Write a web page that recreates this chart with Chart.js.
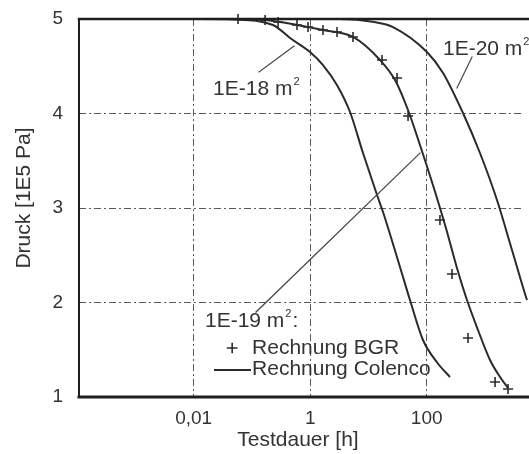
<!DOCTYPE html>
<html>
<head>
<meta charset="utf-8">
<script src="https://cdn.jsdelivr.net/npm/chart.js@4/dist/chart.umd.min.js"></script>
<style>
  html, body { margin: 0; padding: 0; background: #ffffff; overflow: hidden; }
  canvas { display: block; }
</style>
</head>
<body>
<canvas id="c" width="529" height="454"></canvas>
<script>
// ---------- data ----------
// x: Testdauer [h] (log axis), y: Druck [1E5 Pa]
const xTicks = [0.01, 1, 100];
const xTickLabels = ['0,01', '1', '100'];
const yTicks = [1, 2, 3, 4, 5];
const yTickLabels = ['1', '2', '3', '4', '5'];

// Rechnung Colenco, k = 1E-18 m²
const t18 = [0.0001, 0.0129, 0.0473, 0.23, 0.451, 0.993, 1.66, 2.88, 4.83, 8.07, 14.0, 17.8, 34.8, 51.7, 86.4, 153.5, 251];
const p18 = [5.0, 5.0, 4.995, 4.937, 4.799, 4.651, 4.513, 4.302, 4.016, 3.582, 3.14, 2.958, 2.376, 2.026, 1.603, 1.360, 1.212];

// Rechnung Colenco, k = 1E-19 m²
const t19 = [0.0001, 0.063, 0.168, 0.594, 1.66, 5.43, 15.8, 28.6, 47.8, 76.7, 128, 214, 331, 492, 760, 1222, 1815, 2490];
const p19 = [5.0, 5.0, 4.989, 4.937, 4.884, 4.810, 4.566, 4.354, 4.037, 3.667, 3.243, 2.788, 2.365, 2.026, 1.709, 1.392, 1.212, 1.095];

// Rechnung Colenco, k = 1E-20 m²
const t20 = [0.0001, 3.25, 12.6, 26.4, 101, 191, 420, 822, 1610, 2915, 5270, 10700];
const p20 = [5.0, 5.0, 4.968, 4.915, 4.651, 4.429, 4.005, 3.582, 3.085, 2.556, 2.026, 1.48];

// Rechnung BGR, k = 1E-19 m²
const tBGR = [0.0577, 0.168, 0.281, 0.594, 0.918, 1.66, 2.89, 5.43, 17.1, 31.0, 47.9, 169, 272, 513, 1493, 2494];
const pBGR = [5.0, 4.99, 4.968, 4.937, 4.915, 4.884, 4.862, 4.810, 4.566, 4.376, 3.974, 2.873, 2.302, 1.624, 1.159, 1.085];

// ---------- styling / layout ----------
const FONT = '"Liberation Sans", Arial, Helvetica, sans-serif';
const INK = '#2b2b2b';
const TXT = '#333333';
const TSIZE = 21;

const pts = (ts, ps) => ts.map((t, i) => ({ x: t, y: ps[i] }));

// annotation anchors, in data units (t [h], p [1E5 Pa])
const notes = [
  { text: '1E-18 m', sup: '2', tail: '', at: [0.0215, 4.26], leader: [[0.1325, 4.439], [0.527, 4.714]] },
  { text: '1E-20 m', sup: '2', tail: '', at: [190.6, 4.683], leader: [[331, 4.27], [600, 4.598]] },
  { text: '1E-19 m', sup: '2', tail: ':', at: [0.01564, 1.80], leader: [[0.1175, 1.899], [76.9, 3.582]] }
];
const legendSpec = {
  crossAt: [0.0458, 1.519],
  bgrText: [0.1005, 1.519],
  lineFrom: [0.0232, 1.286], lineTo: [0.0927, 1.286],
  colText: [0.1005, 1.296]
};

const noPad = s => { s.paddingTop = 0; s.paddingBottom = 0; s.paddingLeft = 0; s.paddingRight = 0; };

const decor = {
  id: 'decor',
  afterDatasetsDraw(chart) {
    const { ctx, chartArea: a, scales: { x, y } } = chart;
    const X = v => x.getPixelForValue(v);
    const Y = v => y.getPixelForValue(v);
    ctx.save();
    // frame (the plot runs off the right edge of the picture)
    ctx.strokeStyle = '#1e1e1e';
    ctx.lineCap = 'square';
    ctx.lineWidth = 2.5;
    ctx.beginPath(); ctx.moveTo(a.left, a.top); ctx.lineTo(chart.width + 2, a.top); ctx.stroke();
    ctx.lineWidth = 2;
    ctx.beginPath(); ctx.moveTo(a.left, a.top); ctx.lineTo(a.left, a.bottom); ctx.stroke();
    ctx.lineWidth = 3;
    ctx.beginPath(); ctx.moveTo(a.left, a.bottom); ctx.lineTo(chart.width + 2, a.bottom); ctx.stroke();

    // permeability labels with leader lines
    ctx.fillStyle = TXT;
    ctx.textBaseline = 'middle';
    ctx.textAlign = 'left';
    notes.forEach(n => {
      const px = X(n.at[0]), py = Y(n.at[1]);
      ctx.font = TSIZE + 'px ' + FONT;
      ctx.fillText(n.text, px, py);
      const w = ctx.measureText(n.text).width;
      ctx.font = '11px ' + FONT;
      ctx.fillText(n.sup, px + w + 1, py - 7);
      const ws = ctx.measureText(n.sup).width;
      if (n.tail) { ctx.font = TSIZE + 'px ' + FONT; ctx.fillText(n.tail, px + w + ws + 2, py); }
      ctx.strokeStyle = '#444';
      ctx.lineWidth = 1.2;
      ctx.beginPath();
      ctx.moveTo(X(n.leader[0][0]), Y(n.leader[0][1]));
      ctx.lineTo(X(n.leader[1][0]), Y(n.leader[1][1]));
      ctx.stroke();
    });

    // legend
    ctx.strokeStyle = INK;
    ctx.lineWidth = 1.6;
    const cx = X(legendSpec.crossAt[0]), cy = Y(legendSpec.crossAt[1]);
    ctx.beginPath();
    ctx.moveTo(cx - 4.5, cy); ctx.lineTo(cx + 4.5, cy);
    ctx.moveTo(cx, cy - 4.5); ctx.lineTo(cx, cy + 4.5);
    ctx.stroke();
    ctx.font = TSIZE + 'px ' + FONT;
    ctx.fillText('Rechnung BGR', X(legendSpec.bgrText[0]), Y(legendSpec.bgrText[1]));
    ctx.lineWidth = 2;
    ctx.beginPath();
    ctx.moveTo(X(legendSpec.lineFrom[0]), Y(legendSpec.lineFrom[1]));
    ctx.lineTo(X(legendSpec.lineTo[0]), Y(legendSpec.lineTo[1]));
    ctx.stroke();
    ctx.fillText('Rechnung Colenco', X(legendSpec.colText[0]), Y(legendSpec.colText[1]));

    // axis titles
    ctx.font = TSIZE + 'px ' + FONT;
    ctx.textAlign = 'center';
    ctx.fillText('Testdauer [h]', 298, 440);
    ctx.translate(24, 198);
    ctx.rotate(-Math.PI / 2);
    ctx.fillText('Druck [1E5 Pa]', 0, 0);
    ctx.restore();
  }
};

const CLIP = { left: 0, top: 8, right: 12, bottom: 8 };

const curve = (label, ts, ps) => ({
  label, data: pts(ts, ps),
  borderColor: INK, borderWidth: 2, pointRadius: 0,
  cubicInterpolationMode: 'monotone', fill: false, clip: CLIP
});

new Chart(document.getElementById('c'), {
  type: 'line',
  data: {
    datasets: [
      curve('1E-18 m² Colenco', t18, p18),
      curve('1E-19 m² Colenco', t19, p19),
      curve('1E-20 m² Colenco', t20, p20),
      {
        label: '1E-19 m² BGR', data: pts(tBGR, pBGR), showLine: false,
        pointStyle: 'cross', pointRadius: 5, pointBorderWidth: 1.6,
        borderColor: INK, backgroundColor: INK, clip: CLIP
      }
    ]
  },
  options: {
    responsive: false, animation: false, maintainAspectRatio: false,
    layout: { padding: { left: 0, right: 0, top: 19, bottom: 0 } },
    plugins: { legend: { display: false }, tooltip: { enabled: false } },
    scales: {
      x: {
        type: 'logarithmic', min: 1.075e-4, max: 4398,
        afterBuildTicks: s => { s.ticks = xTicks.map(v => ({ value: v })); },
        afterFit: s => { s.height = 57; noPad(s); },
        grid: { color: '#5a5a5a', lineWidth: 1, drawTicks: false },
        border: { display: false, dash: [7, 3, 2, 3] },
        ticks: {
          padding: 10, color: TXT, font: { size: 19, family: FONT },
          autoSkip: false, maxRotation: 0,
          callback: (v) => { const i = xTicks.indexOf(v); return i >= 0 ? xTickLabels[i] : ''; }
        }
      },
      y: {
        min: 1, max: 5,
        afterBuildTicks: s => { s.ticks = yTicks.map(v => ({ value: v })); },
        afterFit: s => { s.width = 79; noPad(s); },
        grid: { color: '#5a5a5a', lineWidth: 1, drawTicks: false },
        border: { display: false, dash: [7, 3, 2, 3] },
        ticks: {
          padding: 16, color: TXT, font: { size: 19, family: FONT },
          callback: (v) => { const i = yTicks.indexOf(v); return i >= 0 ? yTickLabels[i] : ''; }
        }
      }
    }
  },
  plugins: [decor]
});
</script>
</body>
</html>
